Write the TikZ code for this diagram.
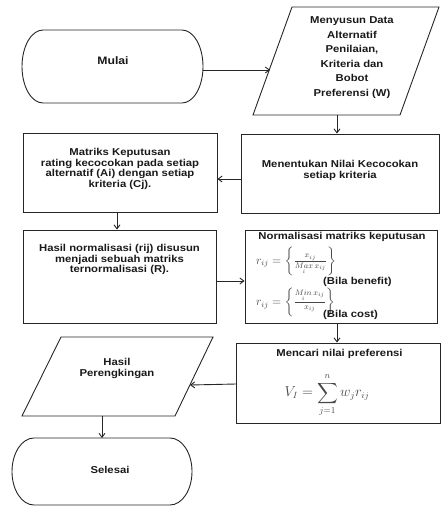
\documentclass[tikz,border=0pt]{standalone}
\usepackage[no-math]{fontspec}
\usepackage{amsmath}
\setmainfont{Liberation Sans}[FakeStretch=1.13]
\usetikzlibrary{arrows.meta}
\tikzset{
  outline/.style={draw=black!85, line width=0.9pt},
  box/.style={outline, inner sep=0pt},
  conn/.style={draw=black!85, line width=0.9pt, -{Straight Barb[length=4pt,width=6pt]}},
  txt/.style={font=\fontsize{10}{11}\selectfont\bfseries, align=center, inner sep=0pt, text=black!90},
  frm/.style={inner sep=0pt, text=black!72, font=\fontsize{11.5}{12}\selectfont},
}
\begin{document}
\begin{tikzpicture}[x=1pt,y=-1pt]
\useasboundingbox (0,0) rectangle (441,506);
% Mulai terminal
\draw[outline] (43,30) -- (182,30)
  arc[start angle=-90,end angle=90,x radius=21,y radius=36.5]
  -- (43,103)
  arc[start angle=90,end angle=270,x radius=21,y radius=36.5] -- cycle;
\node[txt, font=\fontsize{10.8}{12}\selectfont\bfseries] (mulai) at (113,61) {Mulai};
\coordinate (mulaiE) at (203,70);
% parallelogram 1
\draw[outline] (292,7) -- (439,7) -- (400,115) -- (253,115) -- cycle;
\node[txt, font=\fontsize{10}{14.6}\selectfont\bfseries] (data) at (352,57.5)
  {Menyusun Data\\Alternatif\\Penilaian,\\Kriteria dan\\Bobot\\Preferensi (W)};
\coordinate (p1W) at (270,70);
\coordinate (p1S) at (337,115);
% boxes
\node[box, minimum width=198pt, minimum height=79pt] (ment) at (340,173.5) {};
\node[txt] (mentT) at (340,170.5) {Menentukan Nilai Kecocokan\\setiap kriteria};
\node[box, minimum width=194pt, minimum height=79pt] (matr) at (120,172.5) {};
\node[txt, font=\fontsize{10}{10.8}\selectfont\bfseries] (matrT) at (120,169)
  {Matriks Keputusan\\rating kecocokan pada setiap\\alternatif (Ai) dengan setiap\\kriteria (Cj).};
\node[box, minimum width=193pt, minimum height=93pt] (hasil) at (119.5,276.5) {};
\node[txt, font=\fontsize{10}{9}\selectfont\bfseries] (hasilT) at (119.5,259.5)
  {Hasil normalisasi (rij) disusun\\menjadi sebuah matriks\\ternormalisasi (R).};
\node[box, minimum width=192pt, minimum height=93pt] (norm) at (341,276.5) {};
\node[txt] (normT) at (342,237) {Normalisasi matriks keputusan};
\node[frm, anchor=west] (f1) at (256,261)
  {$r_{ij}=\left\{\vphantom{\dfrac{X}{X_X}}\frac{x_{ij}}{\underset{i}{Max}\,x_{ij}}\right\}$};
\node[txt, anchor=west] (b1) at (323,282) {(Bila benefit)};
\node[frm, anchor=west] (f2) at (256,302)
  {$r_{ij}=\left\{\vphantom{\dfrac{X^X}{X}}\frac{\underset{i}{Min}\,x_{ij}}{x_{ij}}\right\}$};
\node[txt, anchor=west] (b2) at (323,315) {(Bila cost)};
\node[box, minimum width=204pt, minimum height=80pt] (menc) at (338.5,383) {};
\node[txt] (mencT) at (339.5,354) {Mencari nilai preferensi};
\node[frm, font=\fontsize{13.5}{14}\selectfont] (f3) at (327,395)
  {$\displaystyle V_I=\sum_{j=1}^{n} w_j r_{ij}$};
% parallelogram 2
\draw[outline] (61,337) -- (213,337) -- (175,416) -- (22,416) -- cycle;
\node[txt] (rank) at (117,368.5) {Hasil\\Perengkingan};
\coordinate (p2E) at (190,385);
\coordinate (p2S) at (102,416);
% Selesai terminal
\draw[outline] (34,438) -- (170,438)
  arc[start angle=-90,end angle=90,x radius=22,y radius=33.5]
  -- (34,505)
  arc[start angle=90,end angle=270,x radius=22,y radius=33.5] -- cycle;
\node[txt] (selesai) at (110,470) {Selesai};
\coordinate (selN) at (102,438);
% connectors
\draw[conn] (mulaiE) -- (p1W);
\draw[conn] (p1S) -- (p1S |- ment.north);
\coordinate (a1) at ([yshift=-5.5pt]ment.west);
\draw[conn] (a1) -- (a1 -| matr.east);
\coordinate (a2) at ([xshift=-3pt]matr.south);
\draw[conn] (a2) -- (a2 |- hasil.north);
\coordinate (a3) at ([yshift=-4.5pt]hasil.east);
\draw[conn] (a3) -- (a3 -| norm.west);
\coordinate (a4) at ([xshift=-4pt]norm.south);
\draw[conn] (a4) -- (a4 |- menc.north);
\coordinate (a5) at ([yshift=-1pt]menc.west);
\draw[conn] (a5) -- (p2E);
\draw[conn] (p2S) -- (selN);
\end{tikzpicture}
\end{document}
